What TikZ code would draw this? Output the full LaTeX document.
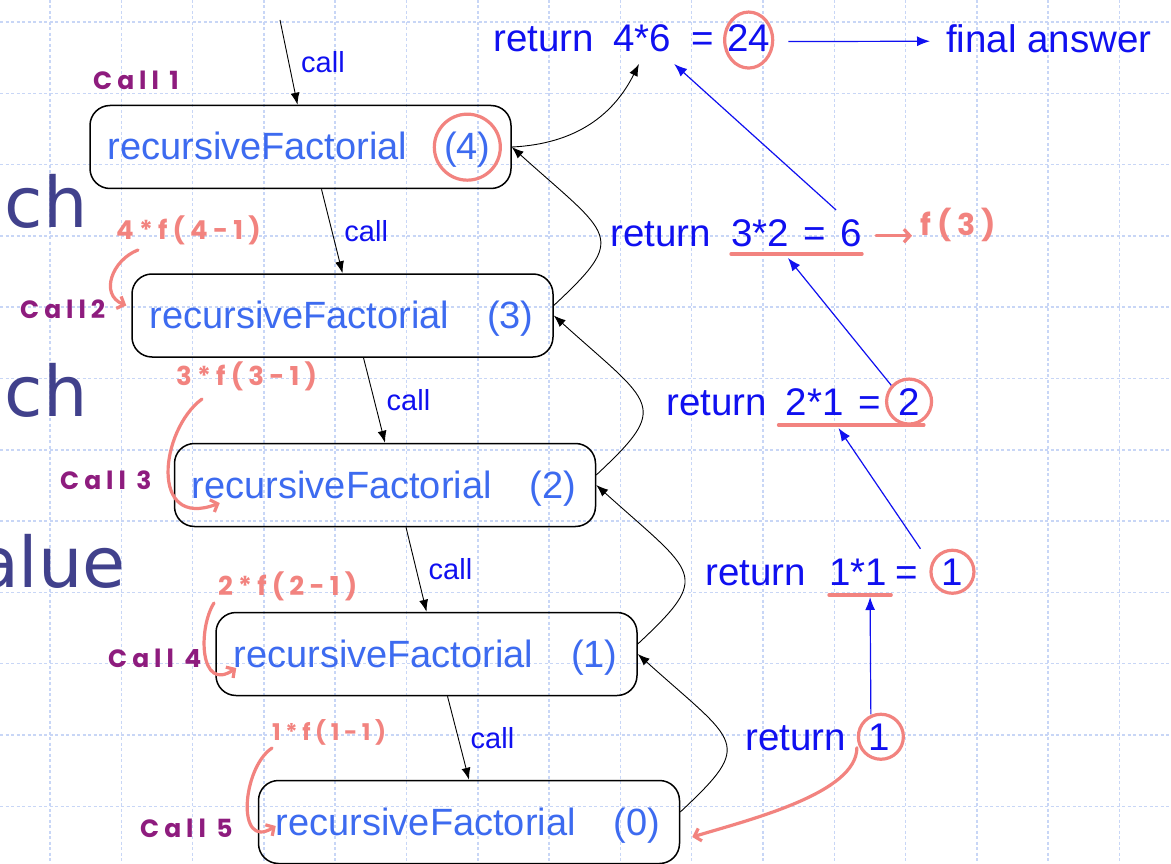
\documentclass[tikz,border=0pt]{standalone}
\usepackage{fontspec}
\setmainfont{Liberation Sans}
\newfontfamily\slidefont{DejaVu Sans}
\newfontfamily\handfont{Poppins}[LetterSpace=20]
\usetikzlibrary{arrows.meta,calc,positioning}
\definecolor{cfun}{HTML}{3D6BF0}
\definecolor{cret}{HTML}{1010F0}
\definecolor{cpen}{HTML}{F2837F}
\definecolor{cpurp}{HTML}{8E1C7E}
\definecolor{cslide}{HTML}{41418C}
\definecolor{cgrid}{HTML}{C8D6F6}
\begin{document}
\begin{tikzpicture}[x=1pt, y=-1pt,
    fbox/.style={draw=black, line width=1.5pt, rounded corners=20pt,
      minimum width=421pt, minimum height=83pt, inner sep=0pt},
    fname/.style={inner sep=0pt, text=cfun, font=\fontsize{38}{44}\selectfont},
    ret/.style={inner sep=0pt, text=cret, font=\fontsize{38.5}{44}\selectfont},
    callt/.style={inner sep=0pt, text=cret, font=\fontsize{29}{34}\selectfont},
    calla/.style={-{Latex[length=12pt,width=9pt]}, line width=0.9pt},
    back/.style={-{Latex[length=12pt,width=9pt]}, line width=0.9pt},
    up/.style={-{Latex[length=13pt,width=10pt]}, cret, line width=1.2pt},
    pen/.style={cpen, line width=3.2pt, line cap=round, line join=round},
    penarr/.style={pen, -{Straight Barb[length=6pt,width=13pt]}},
    hand/.style={inner sep=0pt, text=cpen, font=\handfont\bfseries\fontsize{26}{30}\selectfont},
    callno/.style={inner sep=0pt, text=cpurp, font=\handfont\bfseries\fontsize{25}{30}\selectfont},
    slide/.style={inner sep=0pt, text=cslide, font=\slidefont\fontsize{70}{80}\selectfont},
    gridl/.style={cgrid, line width=1.5pt, dash pattern=on 3pt off 2.5pt}]
  \useasboundingbox (0,0) rectangle (1171,864);
  \clip (0,0) rectangle (1171,864);
  \fill[white] (0,0) rectangle (1171,864);

  % grid paper
  \foreach \k in {0,...,15} \draw[gridl] (50+71.3*\k,0) -- (50+71.3*\k,864);
  \foreach \k in {0,...,11} \draw[gridl] (0,22+71.3*\k) -- (1171,22+71.3*\k);

  % slide text behind
  \node[slide, anchor=base east] (w1) at (88,228) {ach};
  \node[slide, anchor=base east] (w2) at (88,416) {ach};
  \node[slide, anchor=base east] (w3) at (126,587) {alue};

  % call boxes
  \node[fbox] (f4) at (300.5,147) {};
  \node[fname, anchor=base west] (n4) at ([xshift=18pt,yshift=-13pt]f4.west) {recursiveFactorial};
  \node[fname, anchor=base east] (a4) at ([xshift=-21pt,yshift=-13pt]f4.east) {(4)};
  \node[fbox] (f3) at (342.5,315.5) {};
  \node[fname, anchor=base west] (n3) at ([xshift=18pt,yshift=-13pt]f3.west) {recursiveFactorial};
  \node[fname, anchor=base east] (a3) at ([xshift=-20pt,yshift=-13pt]f3.east) {(3)};
  \node[fbox] (f2) at (385,485) {};
  \node[fname, anchor=base west] (n2) at ([xshift=18pt,yshift=-13pt]f2.west) {recursiveFactorial};
  \node[fname, anchor=base east] (a2) at ([xshift=-20pt,yshift=-13pt]f2.east) {(2)};
  \node[fbox] (f1) at (426.5,654) {};
  \node[fname, anchor=base west] (n1) at ([xshift=18pt,yshift=-13pt]f1.west) {recursiveFactorial};
  \node[fname, anchor=base east] (a1) at ([xshift=-20pt,yshift=-13pt]f1.east) {(1)};
  \node[fbox] (f0) at (469,822) {};
  \node[fname, anchor=base west] (n0) at ([xshift=18pt,yshift=-13pt]f0.west) {recursiveFactorial};
  \node[fname, anchor=base east] (a0) at ([xshift=-20pt,yshift=-13pt]f0.east) {(0)};

  % calls going down
  \coordinate (entry) at (280,20);
  \draw[calla] (entry) -- node[callt, midway, right=12pt] (c5) {call} ([xshift=-3pt]f4.north);
  \draw[calla] ([xshift=21pt]f4.south) -- node[callt, midway, right=12pt] (c4) {call} (f3.north);
  \draw[calla] ([xshift=21pt]f3.south) -- node[callt, midway, right=12pt] (c3) {call} (f2.north);
  \draw[calla] ([xshift=21pt]f2.south) -- node[callt, midway, right=12pt] (c2) {call} (f1.north);
  \draw[calla] ([xshift=21pt]f1.south) -- node[callt, midway, right=12pt] (c1) {call} (f0.north);

  % return values
  \node[ret, anchor=base west] (retA) at (493,52) {return};
  \node[ret, base right=19pt of retA] (exA) {4*6};
  \node[ret, base right=20pt of exA] (eqA) {=};
  \node[ret, base right=13pt of eqA] (vA) {24};
  \node[ret, anchor=base west] (fin) at (946,53) {final answer};
  \node[ret, anchor=base west] (retB) at (610,246) {return};
  \node[ret, base right=20pt of retB] (exB) {3*2\hspace{15pt}=\hspace{14pt}6};
  \node[ret, anchor=base west] (retC) at (666,415) {return};
  \node[ret, base right=18.5pt of retC] (exC) {2*1\hspace{15pt}=};
  \node[ret, base right=17pt of exC] (vC) {2};
  \node[ret, anchor=base west] (retD) at (705,585) {return};
  \node[ret, base right=23pt of retD] (exD) {1*1};
  \node[ret, base right=8pt of exD] (eqD) {=};
  \node[ret, base right=23.5pt of eqD] (vD) {1};
  \node[ret, anchor=base west] (retE) at (745,750) {return};
  \node[ret, base right=22pt of retE] (vE) {1};

  % returns going back up
  \draw[back] ([yshift=10pt]f0.east) .. controls +(75,-70) and +(100,90) .. (f1.east);
  \draw[back] ([yshift=10pt]f1.east) .. controls +(75,-70) and +(100,90) .. (f2.east);
  \draw[back] ([yshift=10pt]f2.east) .. controls +(75,-70) and +(100,90) .. (f3.east);
  \draw[back] ([yshift=10pt]f3.east) .. controls +(75,-70) and +(100,90) .. (f4.east);
  \draw[back] (f4.east) .. controls +(65,-3) and +(-25,50) .. ([xshift=26pt,yshift=-12pt]exA.base west);

  \draw[up] ([xshift=-8pt,yshift=9pt]vE.north) -- ([xshift=12pt,yshift=-12pt]exD.base);
  \draw[up] ([xshift=-32pt,yshift=23pt]vD.center) -- ([xshift=53pt,yshift=-13pt]exC.base west);
  \draw[up] ([xshift=-16pt,yshift=14pt]vC.center) -- ([xshift=57pt,yshift=-12pt]exB.base west);
  \draw[up] ([xshift=-26pt,yshift=36pt]exB.base east) -- ([xshift=3pt,yshift=-12pt]exA.base east);
  \draw[up] ([xshift=18pt,yshift=-3pt]vA.east) -- ([xshift=-16pt,yshift=-2pt]fin.west);

  % pen marks
  \draw[pen] ([yshift=3pt]a4.center) circle[radius=33];
  \draw[pen] ([yshift=-1.5pt]vA.center) ellipse[x radius=24, y radius=28];
  \draw[pen] (vC.center) circle[radius=22.5];
  \draw[pen] (vD.center) circle[radius=21.5];
  \draw[pen] ([xshift=2pt]vE.center) circle[radius=22.5];
  \draw[pen] ([yshift=-8pt]exB.base west) -- ([yshift=-8pt]exB.base east);
  \draw[pen] ([xshift=-7pt,yshift=-10pt]exC.base west) -- ([xshift=4pt,yshift=-10pt]vC.base east);
  \draw[pen] ([yshift=-10pt]exD.base west) -- ([xshift=4pt,yshift=-10pt]exD.base east);
  \node[hand, right=58pt of exB, yshift=8pt, font=\handfont\bfseries\fontsize{30}{34}\selectfont] (f3t) {f(3)};
  \draw[penarr] ([xshift=14pt,yshift=-3pt]exB.east) -- ([xshift=-8pt,yshift=-11pt]f3t.west);
  \draw[penarr] ([xshift=-22pt,yshift=-11pt]vE.center) .. controls +(0,45) and +(60,-18) .. ([xshift=12pt,yshift=-15pt]f0.east);

  \node[hand, anchor=west] (h4) at (116,230) {4*f(4-1)};
  \node[hand, anchor=west] (h3) at (176,376) {3*f(3-1)};
  \node[hand, anchor=west] (h2) at (218,586) {2*f(2-1)};
  \node[hand, anchor=west, font=\handfont\bfseries\fontsize{23}{27}\selectfont] (h1) at (272,732) {1*f(1-1)};
  \draw[penarr] ([xshift=22pt,yshift=-20pt]h4.west) .. controls +(-26,10) and +(-27,-11) .. ([xshift=-5pt,yshift=10pt]f3.west);
  \draw[penarr] ([xshift=26pt,yshift=-23pt]h3.west) .. controls +(-42,31) and +(-71,27) .. ([xshift=46pt,yshift=-18pt]f2.west);
  \draw[penarr] ([xshift=-4pt,yshift=-17pt]h2.west) .. controls +(-16,25) and +(-37,25) .. ([xshift=21pt,yshift=-14pt]f1.west);
  \draw[penarr] ([xshift=0pt,yshift=-16pt]h1.west) .. controls +(-30,20) and +(-40,25) .. ([xshift=18pt,yshift=-4pt]f0.west);

  \node[callno, anchor=west] (k1) at (93,80) {Call 1};
  \node[callno, anchor=west] (k2) at (20,309) {Call2};
  \node[callno, anchor=west] (k3) at (60,480) {Call 3};
  \node[callno, anchor=west] (k4) at (108,658) {Call 4};
  \node[callno, anchor=west] (k5) at (140,828) {Call 5};
\end{tikzpicture}
\end{document}
